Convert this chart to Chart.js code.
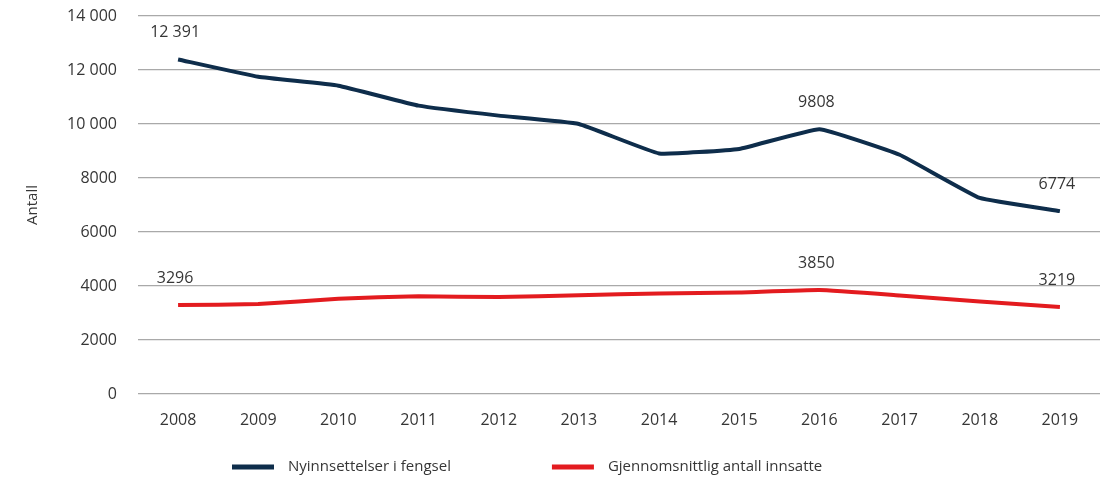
<!DOCTYPE html>
<html>
<head>
<meta charset="utf-8">
<script src="https://cdn.jsdelivr.net/npm/chart.js@4/dist/chart.umd.min.js"></script>
<style>
  html, body { margin: 0; padding: 0; background: #fff; }
  #wrap { width: 1110px; height: 479px; position: relative; }
</style>
</head>
<body>
<div id="wrap"><canvas id="chart"></canvas></div>
<script>
// data
var years = ['2008', '2009', '2010', '2011', '2012', '2013', '2014', '2015', '2016', '2017', '2018', '2019'];
var nyinnsettelser = [12391, 11750, 11420, 10680, 10310, 10000, 8910, 9075, 9808, 8860, 7260, 6774];
var innsatte = [3296, 3330, 3530, 3620, 3590, 3660, 3720, 3760, 3850, 3650, 3430, 3219];
var labeledNy = [0, 8, 11];      // points with value labels
var labeledInn = [0, 8, 11];
var yTicks = [0, 2000, 4000, 6000, 8000, 10000, 12000, 14000];

var textColor = '#363636';
var fontFamily = "'Open Sans', 'Noto Sans', sans-serif";

function fmt(v){
    // space as thousand separator only for 5+ digits
    if(v >= 10000){
        return String(v).replace(/\B(?=(\d{3})+(?!\d))/g, ' ');
    }
    return String(v);
}

var valueLabels = {
    id: 'valueLabels',
    afterDatasetsDraw: function(chart){
        var ctx = chart.ctx;
        ctx.save();
        ctx.font = '16px ' + fontFamily;
        ctx.fillStyle = textColor;
        ctx.textAlign = 'center';
        ctx.textBaseline = 'middle';
        chart.data.datasets.forEach(function(ds, di){
            var meta = chart.getDatasetMeta(di);
            ds.labelIdx.forEach(function(i){
                var pt = meta.data[i];
                ctx.fillText(fmt(ds.data[i]), pt.x - 3, pt.y - 27);
            });
        });
        ctx.restore();
    }
};

// legend drawn by hand so item spacing and box size match the figure
var bottomLegend = {
    id: 'bottomLegend',
    afterDraw: function(chart){
        var ctx = chart.ctx;
        var y = 467;
        var x = 232;
        ctx.save();
        ctx.font = '15px ' + fontFamily;
        ctx.textBaseline = 'middle';
        ctx.textAlign = 'left';
        chart.data.datasets.forEach(function(ds){
            ctx.fillStyle = ds.borderColor;
            ctx.fillRect(x, y - 2.5, 42, 5);
            x += 56;
            ctx.fillStyle = textColor;
            ctx.fillText(ds.label, x, y);
            x += ctx.measureText(ds.label).width + 101;
        });
        ctx.restore();
    }
};

new Chart(document.getElementById('chart').getContext('2d'), {
    type: 'line',
    data: {
        labels: years,
        datasets: [
            {
                label: 'Nyinnsettelser i fengsel',
                data: nyinnsettelser,
                labelIdx: labeledNy,
                borderColor: '#0e2d4b',
                backgroundColor: '#0e2d4b',
                borderWidth: 4,
                pointRadius: 0,
                tension: 0.1
            },
            {
                label: 'Gjennomsnittlig antall innsatte',
                data: innsatte,
                labelIdx: labeledInn,
                borderColor: '#e31b1f',
                backgroundColor: '#e31b1f',
                borderWidth: 4,
                pointRadius: 0,
                tension: 0.1
            }
        ]
    },
    options: {
        responsive: true,
        maintainAspectRatio: false,
        animation: false,
        layout: { padding: { left: 0, right: 10, top: 16, bottom: 45 } },
        plugins: {
            tooltip: { enabled: false },
            legend: { display: false }
        },
        scales: {
            x: {
                offset: true,
                grid: { display: false, drawTicks: false },
                border: { display: false },
                afterFit: function(axis){ axis.height = 40; },
                ticks: {
                    color: textColor,
                    padding: 17,
                    font: { family: fontFamily, size: 16 }
                }
            },
            y: {
                min: 0,
                max: 14000,
                afterBuildTicks: function(axis){
                    axis.ticks = yTicks.map(function(v){ return { value: v }; });
                },
                afterFit: function(axis){
                    axis.width = 138;
                    axis.paddingTop = 0;
                    axis.paddingBottom = 0;
                },
                border: { display: false },
                grid: {
                    color: '#a9a9a9',
                    lineWidth: 1.2,
                    drawTicks: false
                },
                ticks: {
                    color: textColor,
                    padding: 21,
                    font: { family: fontFamily, size: 16 },
                    callback: function(v){ return fmt(v); }
                },
                title: {
                    display: true,
                    text: 'Antall',
                    color: textColor,
                    padding: { top: 24, bottom: 0 },
                    font: { family: fontFamily, size: 15 }
                }
            }
        }
    },
    plugins: [valueLabels, bottomLegend]
});
</script>
</body>
</html>
